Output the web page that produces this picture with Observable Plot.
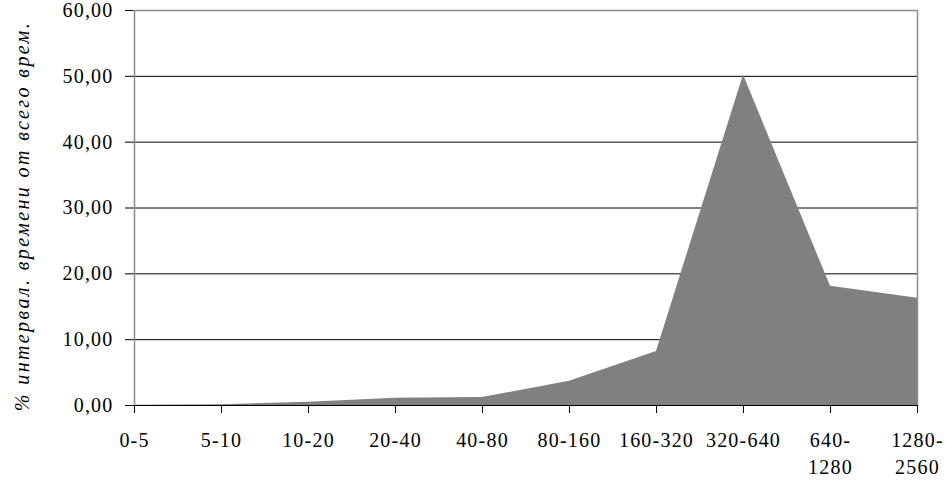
<!DOCTYPE html>
<html>
<head>
<meta charset="utf-8">
<script src="https://cdn.jsdelivr.net/npm/d3@7"></script>
<script src="https://cdn.jsdelivr.net/npm/@observablehq/plot@0.6"></script>
<style>
  html, body { margin: 0; padding: 0; background: white; }
  svg text { letter-spacing: 1.2px; }
  svg .ylab text { letter-spacing: 2.4px; }
</style>
</head>
<body>
<div id="chart"></div>
<script>
const categories = ["0-5", "5-10", "10-20", "20-40", "40-80", "80-160", "160-320", "320-640", "640-1280", "1280-2560"];
const values = [0.05, 0.1, 0.5, 1.1, 1.2, 3.7, 8.2, 50.2, 18.1, 16.3];
const xTickLabels = ["0-5", "5-10", "10-20", "20-40", "40-80", "80-160", "160-320", "320-640", "640-\n1280", "1280-\n2560"];
const yTicks = [0, 10, 20, 30, 40, 50, 60];
const gridTicks = [10, 20, 30, 40, 50];
const yLabel = "% интервал. времени от всего врем.";

const data = categories.map((c, i) => ({cat: c, value: values[i]}));
const labelMap = new Map(categories.map((c, i) => [c, xTickLabels[i]]));
const fmt = d => d.toFixed(2).replace(".", ",");

const chart = Plot.plot({
  width: 945,
  height: 483,
  marginLeft: 133,
  marginRight: 28,
  marginTop: 10,
  marginBottom: 78,
  style: {fontFamily: "'Liberation Serif', 'Times New Roman', serif", fontSize: "20px", color: "black", background: "white"},
  x: {type: "point", domain: categories, padding: 0},
  y: {domain: [0, 60]},
  marks: [
    Plot.gridY(gridTicks, {stroke: "black", strokeOpacity: 1, strokeWidth: 1}),
    Plot.areaY(data, {x: "cat", y: "value", fill: "#808080"}),
    Plot.ruleY([60], {stroke: "#8c8c8c", strokeWidth: 1.5}),
    Plot.ruleX([categories[categories.length - 1]], {stroke: "#8c8c8c", strokeWidth: 1.5}),
    Plot.ruleX([categories[0]], {stroke: "#8c8c8c", strokeWidth: 1.5}),
    Plot.ruleY([0], {stroke: "black", strokeWidth: 1}),
    Plot.axisY(yTicks, {tickSize: 8, tickPadding: 12, tickFormat: fmt, label: null, fontSize: 20, stroke: "black"}),
    Plot.axisX({tickSize: 8, tickPadding: 14, tickFormat: d => labelMap.get(d), label: null, fontSize: 20, lineHeight: 1.35}),
    Plot.text([yLabel], {className: "ylab", frameAnchor: "left", textAnchor: "middle", lineAnchor: "middle", rotate: -90, dx: -111, dy: 8, fontStyle: "italic", fontSize: 20, fill: "black", text: d => d})
  ]
});
document.getElementById("chart").appendChild(chart);
</script>
</body>
</html>
